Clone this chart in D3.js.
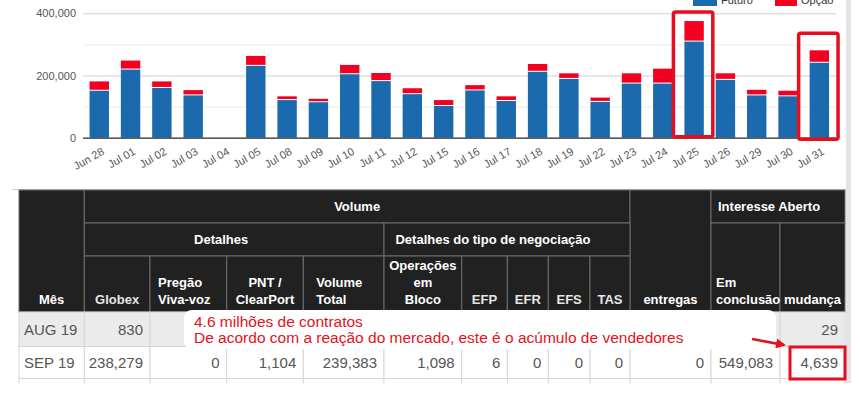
<!DOCTYPE html>
<html>
<head>
<meta charset="utf-8">
<script src="https://cdn.jsdelivr.net/npm/d3@7"></script>
<style>
  body { margin: 0; background: #fff; }
  svg { display: block; font-family: "Liberation Sans", Arial, sans-serif; }
</style>
</head>
<body>
<script>
// ---- data ----
var dates = ['Jun 28', 'Jul 01', 'Jul 02', 'Jul 03', 'Jul 04', 'Jul 05', 'Jul 08', 'Jul 09',
  'Jul 10', 'Jul 11', 'Jul 12', 'Jul 15', 'Jul 16', 'Jul 17', 'Jul 18', 'Jul 19',
  'Jul 22', 'Jul 23', 'Jul 24', 'Jul 25', 'Jul 26', 'Jul 29', 'Jul 30', 'Jul 31'];
var futures = [151000, 219000, 160000, 136000, 0, 231000, 121000, 114000,
  204000, 182000, 140000, 102000, 152000, 118000, 212000, 189000,
  115000, 174000, 174000, 309000, 186000, 136000, 133000, 241000];
var options = [30000, 29000, 21000, 17000, 0, 32000, 12000, 11000,
  30000, 26000, 19000, 19000, 17000, 15000, 25000, 18000,
  14000, 33000, 48000, 66000, 21000, 18000, 18000, 40000];
var yTicks = [0, 200000, 400000];
var seriesNames = ['Futuro', 'Opção'];
var highlighted = ['Jul 25', 'Jul 31'];

var columns = ['Mês', 'Globex', 'Pregão Viva-voz', 'PNT / ClearPort', 'Volume Total',
  'Operações em Bloco', 'EFP', 'EFR', 'EFS', 'TAS', 'entregas', 'Em conclusão', 'mudança'];
var rowAug = ['AUG 19', '830', '', '', '', '', '', '', '', '', '', '', '29'];
var rowSep = ['SEP 19', '238,279', '0', '1,104', '239,383', '1,098', '6', '0', '0', '0', '0', '549,083', '4,639'];
var note = ['4.6 milhões de contratos',
  'De acordo com a reação do mercado, este é o acúmulo de vendedores'];

// ---- layout ----
var W = 860, H = 395;
var BLUE = '#1b6aae', RED = '#f20020', NOTE_RED = '#e3121b';

var svg = d3.select('body').append('svg')
  .attr('width', W)
  .attr('height', H);

var x = d3.scaleBand()
  .domain(dates)
  .range([83.6, 835])
  .paddingInner(0.38)
  .paddingOuter(0.19);

var y = d3.scaleLinear()
  .domain([0, 400000])
  .range([137.7, 13.3]);

// gridlines
svg.append('g').selectAll('line')
    .data(d3.range(0, 400001, 100000))
  .enter().append('line')
    .attr('x1', 83)
    .attr('x2', 836)
    .attr('y1', function(d) { return y(d) + 0.5; })
    .attr('y2', function(d) { return y(d) + 0.5; })
    .attr('stroke', function(d) { return d % 200000 ? '#ececec' : '#cfcfcf'; });

// y axis labels
var yAxis = svg.append('g')
  .attr('transform', 'translate(78,0)')
  .call(d3.axisLeft(y).tickValues(yTicks).tickFormat(d3.format(',')).tickSize(0));
yAxis.select('.domain').remove();
yAxis.selectAll('text')
  .attr('x', -2)
  .style('font-size', '11px')
  .style('font-family', '"Liberation Sans", Arial, sans-serif')
  .attr('fill', '#555');

// stacked bars
var bars = svg.append('g');
bars.selectAll('rect.fut')
    .data(dates)
  .enter().append('rect')
    .attr('class', 'fut')
    .attr('x', function(d) { return x(d); })
    .attr('width', x.bandwidth())
    .attr('y', function(d, i) { return y(futures[i]); })
    .attr('height', function(d, i) { return y(0) - y(futures[i]); })
    .attr('fill', BLUE);

bars.selectAll('rect.opt')
    .data(dates)
  .enter().append('rect')
    .attr('class', 'opt')
    .attr('x', function(d) { return x(d); })
    .attr('width', x.bandwidth())
    .attr('y', function(d, i) { return y(futures[i] + options[i]); })
    .attr('height', function(d, i) {
      return Math.max(0, y(futures[i]) - y(futures[i] + options[i]) - 1);
    })
    .attr('fill', RED);

// baseline
svg.append('line')
  .attr('x1', 83).attr('x2', 836)
  .attr('y1', y(0) + 0.5).attr('y2', y(0) + 0.5)
  .attr('stroke', '#333')
  .attr('stroke-width', 1.3);

// x axis labels
var xAxis = svg.append('g')
  .attr('transform', 'translate(0,' + y(0) + ')')
  .call(d3.axisBottom(x).tickSize(0));
xAxis.select('.domain').remove();
xAxis.selectAll('text')
  .attr('y', 0)
  .attr('dy', 0)
  .attr('transform', 'translate(' + (x.bandwidth() / 2 - 4) + ',16) rotate(-30)')
  .style('text-anchor', 'end')
  .style('font-size', '11px')
  .style('font-family', '"Liberation Sans", Arial, sans-serif')
  .attr('fill', '#555');

// highlight boxes around two bars
svg.append('g').selectAll('rect')
    .data(highlighted)
  .enter().append('rect')
    .attr('x', function(d) { return x(d) - 11; })
    .attr('width', x.bandwidth() + 20)
    .attr('y', function(d, i) {
      var k = dates.indexOf(d);
      return y(futures[k] + options[k]) - (i ? 17 : 9);
    })
    .attr('height', function(d, i) {
      var k = dates.indexOf(d);
      return y(0) - y(futures[k] + options[k]) + (i ? 18.5 : 8);
    })
    .attr('rx', 2)
    .attr('fill', 'none')
    .attr('stroke', '#e50f1f')
    .attr('stroke-width', 3.5);

// clipped legend at the top
var legend = svg.append('g');
legend.selectAll('rect')
    .data(seriesNames)
  .enter().append('rect')
    .attr('x', function(d, i) { return i ? 775 : 693; })
    .attr('y', -4)
    .attr('width', function(d, i) { return i ? 22 : 24; })
    .attr('height', 10)
    .attr('fill', function(d, i) { return i ? RED : BLUE; });
legend.selectAll('text')
    .data(seriesNames)
  .enter().append('text')
    .attr('x', function(d, i) { return i ? 801 : 721; })
    .attr('y', 4)
    .style('font-size', '11px')
    .attr('fill', '#333')
    .text(function(d) { return d; });

// chart frame bottom + right scrollbar strip
svg.append('line')
  .attr('x1', 12).attr('x2', 846)
  .attr('y1', 189.5).attr('y2', 189.5)
  .attr('stroke', '#cfcfcf');
svg.append('rect')
  .attr('x', 846).attr('y', 0)
  .attr('width', 5).attr('height', 383)
  .attr('fill', '#e4e4e4');

// ---- table ----
var colWidths = [65.3, 65.7, 76.7, 76.6, 80.7, 77.7, 45.6, 41, 41.7, 40, 81, 69, 65];
var colX = [19];
colWidths.forEach(function(w, i) { colX.push(colX[i] + w); });
var headY = [190, 223, 256, 312];
var rowY = [312, 346.5, 378.5];

var headCells = [
  { t: ['Mês'], c0: 0, c1: 1, r0: 0, r1: 3 },
  { t: ['Volume'], c0: 1, c1: 10, r0: 0, r1: 1 },
  { t: ['entregas'], c0: 10, c1: 11, r0: 0, r1: 3 },
  { t: ['Interesse Aberto'], c0: 11, c1: 13, r0: 0, r1: 1, left: 7 },
  { t: ['Detalhes'], c0: 1, c1: 5, r0: 1, r1: 2, dx: -13 },
  { t: ['Detalhes do tipo de negociação'], c0: 5, c1: 10, r0: 1, r1: 2, dx: -14 },
  { t: ['Em', 'conclusão'], c0: 11, c1: 12, r0: 1, r1: 3, left: 5 },
  { t: ['mudança'], c0: 12, c1: 13, r0: 1, r1: 3, left: 4 },
  { t: ['Globex'], c0: 1, c1: 2, r0: 2, r1: 3 },
  { t: ['Pregão', 'Viva-voz'], c0: 2, c1: 3, r0: 2, r1: 3, left: 8 },
  { t: ['PNT /', 'ClearPort'], c0: 3, c1: 4, r0: 2, r1: 3 },
  { t: ['Volume', 'Total'], c0: 4, c1: 5, r0: 2, r1: 3, left: 13 },
  { t: ['Operações', 'em', 'Bloco'], c0: 5, c1: 6, r0: 2, r1: 3 },
  { t: ['EFP'], c0: 6, c1: 7, r0: 2, r1: 3 },
  { t: ['EFR'], c0: 7, c1: 8, r0: 2, r1: 3 },
  { t: ['EFS'], c0: 8, c1: 9, r0: 2, r1: 3 },
  { t: ['TAS'], c0: 9, c1: 10, r0: 2, r1: 3 }
];

var head = svg.append('g');
head.selectAll('rect')
    .data(headCells)
  .enter().append('rect')
    .attr('x', function(d) { return colX[d.c0]; })
    .attr('y', function(d) { return headY[d.r0]; })
    .attr('width', function(d) { return colX[d.c1] - colX[d.c0]; })
    .attr('height', function(d) { return headY[d.r1] - headY[d.r0]; })
    .attr('fill', '#212121')
    .attr('stroke', '#6e6e6e')
    .attr('stroke-width', 1);

head.selectAll('text')
    .data(headCells)
  .enter().append('text')
    .attr('fill', function(d) { return d.r0 === 2 && d.t[0].length === 3 || d.t[0] === 'Globex' ? '#e6e6e6' : '#fff'; })
    .style('font-size', '13px')
    .style('font-weight', 'bold')
    .style('text-anchor', function(d) { return d.left ? 'start' : 'middle'; })
    .each(function(d) {
      var xx = d.left ? colX[d.c0] + d.left : (colX[d.c0] + colX[d.c1]) / 2 + (d.dx || 0);
      var lastBase = d.r1 === 3 ? 304 : (headY[d.r0] + headY[d.r1]) / 2 + 4.5;
      var n = d.t.length;
      d3.select(this).selectAll('tspan')
          .data(d.t)
        .enter().append('tspan')
          .attr('x', xx)
          .attr('y', function(s, j) { return lastBase - (n - 1 - j) * 17; })
          .text(function(s) { return s; });
    });

// data rows
var rows = [rowAug, rowSep];
var body = svg.append('g');
rows.forEach(function(row, ri) {
  var g = body.append('g');
  g.selectAll('rect')
      .data(row)
    .enter().append('rect')
      .attr('x', function(d, i) { return colX[i]; })
      .attr('y', rowY[ri])
      .attr('width', function(d, i) { return colWidths[i]; })
      .attr('height', rowY[ri + 1] - rowY[ri])
      .attr('fill', ri ? '#fff' : '#ebebeb')
      .attr('stroke', '#d6d6d6');
  g.selectAll('text')
      .data(row)
    .enter().append('text')
      .attr('x', function(d, i) { return i ? colX[i + 1] - 7 : colX[0] + 5; })
      .attr('y', (rowY[ri] + rowY[ri + 1]) / 2 + 5.5)
      .style('text-anchor', function(d, i) { return i ? 'end' : 'start'; })
      .style('font-size', '15px')
      .attr('fill', '#555')
      .text(function(d) { return d; });
});
// start of the next (cut off) row
body.append('g').selectAll('line')
    .data(colX)
  .enter().append('line')
    .attr('x1', function(d) { return d; })
    .attr('x2', function(d) { return d; })
    .attr('y1', rowY[2])
    .attr('y2', rowY[2] + 5)
    .attr('stroke', '#d6d6d6');

// annotation note
svg.append('rect')
  .attr('x', 184).attr('y', 310)
  .attr('width', 592).attr('height', 39)
  .attr('rx', 8)
  .attr('fill', '#fff');
svg.append('g').selectAll('text')
    .data(note)
  .enter().append('text')
    .attr('x', 194)
    .attr('y', function(d, i) { return 326.5 + i * 16.5; })
    .style('font-size', '15.5px')
    .attr('fill', NOTE_RED)
    .text(function(d) { return d; });

// arrow to the highlighted change
svg.append('defs').append('marker')
  .attr('id', 'arrow')
  .attr('viewBox', '0 0 10 10')
  .attr('refX', 8).attr('refY', 5)
  .attr('markerWidth', 4).attr('markerHeight', 4)
  .attr('orient', 'auto')
  .append('path')
    .attr('d', 'M0,0L10,5L0,10z')
    .attr('fill', NOTE_RED);
svg.append('line')
  .attr('x1', 752).attr('y1', 339)
  .attr('x2', 784).attr('y2', 345)
  .attr('stroke', NOTE_RED)
  .attr('stroke-width', 2.5)
  .attr('marker-end', 'url(#arrow)');

// box around the last cell
svg.append('rect')
  .attr('x', colX[12] + 10).attr('y', 347)
  .attr('width', colWidths[12] - 10).attr('height', 32)
  .attr('fill', 'none')
  .attr('stroke', '#e50f1f')
  .attr('stroke-width', 3);
</script>
</body>
</html>
